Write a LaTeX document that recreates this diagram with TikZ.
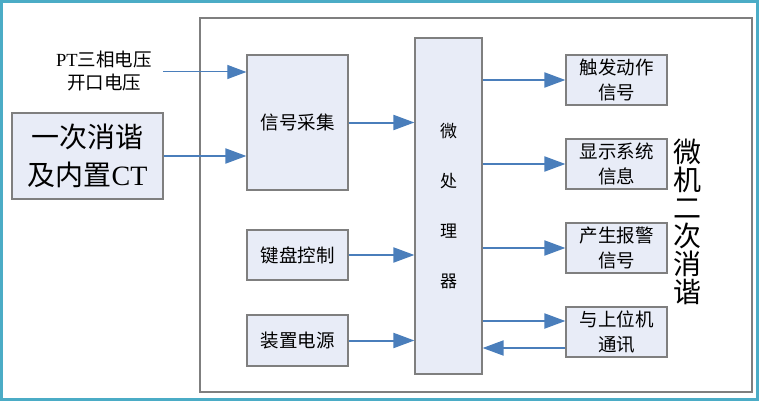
\documentclass[tikz,border=0pt]{standalone}
\usepackage{fontspec}
\setmainfont{Liberation Serif}
\newfontfamily\cjk{Noto Sans CJK SC}
\usepackage{xcolor}
\usetikzlibrary{positioning,calc,arrows.meta}
\definecolor{boxfill}{HTML}{E8ECF7}
\definecolor{boxline}{HTML}{7F7F7F}
\definecolor{arrowblue}{HTML}{4A7EBB}
\definecolor{framecol}{HTML}{4BACC6}

\begin{document}
\begin{tikzpicture}[x=1pt,y=-1pt,
		blk/.style={draw=boxline, line width=1.2pt, rectangle, fill=boxfill, inner sep=2pt, align=center, font=\cjk\fontsize{18.5}{25}\selectfont},
		sigarrow/.style={draw=arrowblue, line width=2pt, -{Triangle[length=21pt,width=15pt]}},
		thinarrow/.style={draw=arrowblue, line width=1pt, -{Triangle[length=19pt,width=14pt]}}]
				\useasboundingbox (0,0) rectangle (759,401);
				\draw[framecol, line width=3pt] (1.5,1.5) rectangle (757.5,399.5);
				
				% Scheda microcomputer
				\draw[boxline, line width=1.2pt] (200,18) rectangle (752,392);
				\node[font=\cjk\fontsize{28}{28}\selectfont, align=center] (title) at (687,222) {微\\机\\二\\次\\消\\谐};
				
				% Ingressi
				\node[blk, minimum width=151pt, minimum height=86pt, font=\fontsize{28}{38}\selectfont] (ct) at (87.5,156) {{\cjk 一次消谐}\\{\cjk 及内置}CT};
				\node[align=center, font=\fontsize{18.5}{23}\selectfont] (pt) at (104,71) {PT{\cjk 三相电压}\\{\cjk 开口电压}};
				\coordinate (ptin) at (163,72);
				
				\node[blk, minimum width=101pt, minimum height=135pt] (sig) at (297.5,122.5) {信号采集};
				\node[blk, minimum width=101pt, minimum height=50pt] (key) at (297.5,255) {键盘控制};
				\node[blk, minimum width=101pt, minimum height=51pt] (pwr) at (297.5,340.5) {装置电源};
				
				% Processore
				\node[blk, minimum width=67pt, minimum height=336pt, font=\cjk\fontsize{17}{50}\selectfont] (cpu) at (448.5,206) {微\\处\\理\\器};
				
				% Uscite
				\node[blk, minimum width=101pt, minimum height=50pt] (trig) at (616.5,80) {触发动作\\信号};
				\node[blk, minimum width=101pt, minimum height=50pt] (disp) at (616.5,164) {显示系统\\信息};
				\node[blk, minimum width=101pt, minimum height=50pt] (alarm) at (616.5,248) {产生报警\\信号};
				\node[blk, minimum width=101pt, minimum height=50pt] (comm) at (616.5,332) {与上位机\\通讯};
				
				\draw[thinarrow] (ptin) -- (ptin -| sig.west);
				\draw[sigarrow] (ct.east) -- (ct.east -| sig.west);
				\draw[sigarrow] (sig.east) -- (sig.east -| cpu.west);
				\draw[sigarrow] (key.east) -- (key.east -| cpu.west);
				\draw[sigarrow] (pwr.east) -- (pwr.east -| cpu.west);
				
				\draw[sigarrow] (trig.west -| cpu.east) -- (trig.west);
				\draw[sigarrow] (disp.west -| cpu.east) -- (disp.west);
				\draw[sigarrow] (alarm.west -| cpu.east) -- (alarm.west);
				\draw[sigarrow] ([yshift=11pt]comm.west -| cpu.east) -- ([yshift=11pt]comm.west);
				\draw[sigarrow] ([yshift=-16pt]comm.west) -- ([yshift=-16pt]comm.west -| cpu.east);
			\end{tikzpicture}
\end{document}
